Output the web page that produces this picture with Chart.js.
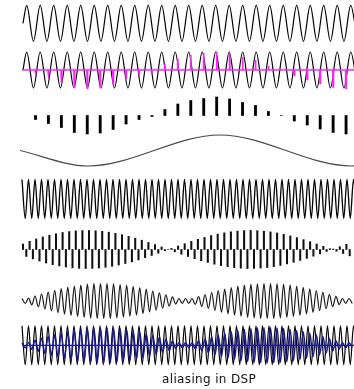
<!DOCTYPE html>
<html>
<head>
<meta charset="utf-8">
<script src="https://cdn.jsdelivr.net/npm/chart.js@4.4.0/dist/chart.umd.min.js"></script>
<style>
  body { margin: 0; background: #fff; }
  #wrap { position: relative; width: 354px; height: 389px; overflow: hidden; background: #fff; }
  #wrap canvas { position: absolute; left: 20px; }
  #caption { position: absolute; left: 162px; top: 372px; font: 12px "DejaVu Sans", sans-serif; letter-spacing: 0.35px; color: #111; white-space: nowrap; }
</style>
</head>
<body>
<div id="wrap">
  <canvas id="row1" width="334" height="48"></canvas>
  <canvas id="row2" width="334" height="48"></canvas>
  <canvas id="row3" width="334" height="48"></canvas>
  <canvas id="row4" width="334" height="48"></canvas>
  <canvas id="row5" width="334" height="48"></canvas>
  <canvas id="row6" width="334" height="48"></canvas>
  <canvas id="row7" width="334" height="48"></canvas>
  <canvas id="row8" width="334" height="48"></canvas>
  <div id="caption">aliasing in DSP</div>
</div>
<script>
// ---- data (time in arbitrary units, 0..332) ----

// input sine: starts on the zero line, then its peaks and troughs
const signalStart = 1;
const signalFirstPeak = 4.7;
const signalHalfPeriod = 6.75;
const signalPeaks = [
  18, -18, 18, -18, 18, -18, 18, -18, 18, -18, 18, -18, 18, -18, 18, -18, 18, -18, 18, -18,
  18, -18, 18, -18, 18, -18, 18, -18, 18, -18, 18, -18, 18, -18, 18, -18, 18, -18, 18, -18,
  18, -18, 18, -18, 18, -18, 18, -18, 18, -18
];

// samples of the input (magenta stems / black bars)
const sampleStart = 13.5;
const samplePeriod = 12.94;
const samples = [
  -4, -8, -12, -17, -18.5, -17.5, -14, -8.5, -4, -1, 6, 11.5, 15,
  17, 18.5, 16.5, 13, 10, 4, 0, -5.5, -9.5, -13.5, -17, -18.5
];

// reconstructed (aliased) slow wave
const aliasTimes = [-2, 66, 198, 330, 345];
const aliasValues = [0, -15.5, 15.5, -15.5, -14.5];

// fast input near half the sample rate: peaks and troughs
const fastStart = 0;
const fastHalfPeriod = 3.25;
const fastPeaks = [
  19.5, -19.5, 19.5, -19.5, 19.5, -19.5, 19.5, -19.5, 19.5, -19.5, 19.5, -19.5, 19.5, -19.5, 19.5, -19.5,
  19.5, -19.5, 19.5, -19.5, 19.5, -19.5, 19.5, -19.5, 19.5, -19.5, 19.5, -19.5, 19.5, -19.5, 19.5, -19.5,
  19.5, -19.5, 19.5, -19.5, 19.5, -19.5, 19.5, -19.5, 19.5, -19.5, 19.5, -19.5, 19.5, -19.5, 19.5, -19.5,
  19.5, -19.5, 19.5, -19.5, 19.5, -19.5, 19.5, -19.5, 19.5, -19.5, 19.5, -19.5, 19.5, -19.5, 19.5, -19.5,
  19.5, -19.5, 19.5, -19.5, 19.5, -19.5, 19.5, -19.5, 19.5, -19.5, 19.5, -19.5, 19.5, -19.5, 19.5, -19.5,
  19.5, -19.5, 19.5, -19.5, 19.5, -19.5, 19.5, -19.5, 19.5, -19.5, 19.5, -19.5, 19.5, -19.5, 19.5, -19.5,
  19.5, -19.5, 19.5, -19.5, 19.5, -19.5, 19.5, -19.5
];

// samples of the fast input
const fastSampleStart = 1;
const fastSamplePeriod = 3.3;
const fastSamples = [
  5.5, -7, 8.2, -9.4, 10.5, -11.5, 12.6, -13.5, 14.3, -15.1, 15.8, -16.4, 17, -17.5, 17.9, -18.3,
  18.6, -18.8, 18.9, -19, 19, -18.9, 18.7, -18.5, 18.2, -17.8, 17.3, -16.8, 16.2, -15.5, 14.8, -14,
  13.2, -12.3, 11.3, -10.4, 9.3, -8.2, 7.1, -6, 4.9, -3.7, 2.5, -1.3, 0, 1.1, -2.3, 3.5,
  -4.7, 5.8, -7, 8.1, -9.2, 10.2, -11.2, 12.1, -13, 13.9, -14.7, 15.4, -16.1, 16.7, -17.2, 17.7,
  -18.1, 18.4, -18.7, 18.9, -19, 19, -18.9, 18.8, -18.6, 18.3, -18, 17.6, -17.1, 16.5, -15.9, 15.2,
  -14.4, 13.6, -12.8, 11.9, -10.9, 9.9, -8.9, 7.8, -6.7, 5.5, -4.4, 3.2, -2, 0.8, 0.5, -1.7,
  2.8, -4, 5.2, -6.3
];

// reconstruction from the fast samples: beating wave, peaks and troughs
const beatStart = 0;
const beatHalfPeriod = 3.27;
const beatPeaks = [
  2.5, -2.5, 2.8, -3.9, 5, -6, 7, -8, 8.9, -9.9, 10.7, -11.6, 12.4, -13.1, 13.8, -14.5,
  15, -15.6, 16, -16.4, 16.8, -17.1, 17.3, -17.4, 17.5, -17.5, 17.4, -17.3, 17.1, -16.9, 16.5, -16.1,
  15.7, -15.2, 14.6, -14, 13.3, -12.6, 11.8, -10.9, 10.1, -9.2, 8.2, -7.2, 6.2, -5.2, 4.2, -3.1,
  2.5, -2.5, 2.5, -2.5, 2.5, -3.4, 4.5, -5.5, 6.5, -7.5, 8.5, -9.4, 10.3, -11.2, 12, -12.8,
  13.5, -14.2, 14.8, -15.3, 15.8, -16.3, 16.6, -16.9, 17.2, -17.4, 17.5, -17.5, 17.5, -17.4, 17.2, -17,
  16.7, -16.3, 15.9, -15.4, 14.9, -14.3, 13.6, -12.9, 12.1, -11.3, 10.5, -9.6, 8.7, -7.7, 6.7, -5.7,
  4.6, -3.6, 2.5, -2.5, 2.5, -2.5
];

const captionText = 'aliasing in DSP';

// ---- helpers ----
function evenPoints(t0, step, values) {
  return values.map((v, i) => ({ x: t0 + i * step, y: v }));
}

function stemPoints(t0, step, values) {
  let pts = [{ x: 0, y: 0 }];
  values.forEach((v, i) => {
    const t = t0 + i * step;
    pts.push({ x: t - 0.4, y: 0 }, { x: t, y: v }, { x: t + 0.4, y: 0 });
  });
  pts.push({ x: 334, y: 0 });
  return pts;
}

function wave(data, color, width, order) {
  return {
    type: 'line', data: data, borderColor: color, borderWidth: width,
    pointRadius: 0, tension: 0.4, cubicInterpolationMode: 'monotone',
    fill: false, order: order || 0
  };
}

// row centre on the page (pixels) -> canvas top + y range
function drawRow(id, centre, datasets) {
  const canvas = document.getElementById(id);
  const top = Math.floor(centre) - 24;
  canvas.style.top = top + 'px';
  const yMax = centre - top;
  return new Chart(canvas.getContext('2d'), {
    type: 'line',
    data: { datasets: datasets },
    options: {
      responsive: false,
      animation: false,
      events: [],
      layout: { padding: 0 },
      plugins: { legend: { display: false }, tooltip: { enabled: false }, title: { display: false } },
      scales: {
        x: { type: 'linear', display: false, min: -2, max: 332, offset: false },
        y: { type: 'linear', display: false, min: yMax - 48, max: yMax }
      }
    }
  });
}

const signalData = [{ x: signalStart, y: 0 }].concat(evenPoints(signalFirstPeak, signalHalfPeriod, signalPeaks));
const fastData = evenPoints(fastStart, fastHalfPeriod, fastPeaks);
const beatData = evenPoints(beatStart, beatHalfPeriod, beatPeaks);

drawRow('row1', 23.3, [wave(signalData, '#000', 1.2)]);

drawRow('row2', 70, [
  { type: 'line', data: stemPoints(sampleStart, samplePeriod, samples), borderColor: '#ff22ff',
    borderWidth: 1.6, pointRadius: 0, tension: 0, order: 0 },
  wave(signalData, '#000', 1.2, 1)
]);

drawRow('row3', 115.5, [{
  type: 'bar', data: evenPoints(sampleStart, samplePeriod, samples),
  backgroundColor: '#000', borderWidth: 0, barThickness: 2.2
}]);

drawRow('row4', 150.5, [wave(aliasTimes.map((t, i) => ({ x: t, y: aliasValues[i] })), '#4a4a4a', 1.2)]);

drawRow('row5', 199, [wave(fastData, '#000', 1.3)]);

drawRow('row6', 249.5, [{
  type: 'bar', data: evenPoints(fastSampleStart, fastSamplePeriod, fastSamples),
  backgroundColor: '#111', borderWidth: 0, barThickness: 1.4
}]);

drawRow('row7', 301, [wave(beatData, '#1a1a1a', 1.2)]);

drawRow('row8', 345.3, [
  { type: 'line', data: [{ x: 0, y: 0 }, { x: 334, y: 0 }], borderColor: '#1a1a88',
    borderWidth: 1.3, pointRadius: 0, order: 0 },
  wave(beatData, '#1a1a88', 1.5, 0),
  wave(fastData, '#000', 1.2, 2)
]);

document.getElementById('caption').textContent = captionText;
</script>
</body>
</html>
